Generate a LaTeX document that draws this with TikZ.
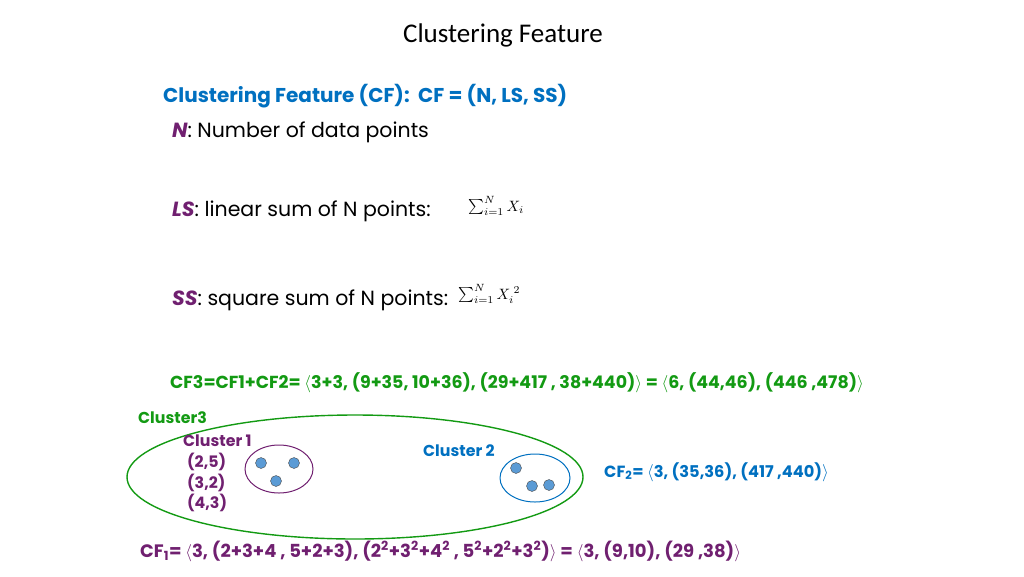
\documentclass[tikz,border=0pt]{standalone}
\usepackage{fontspec}
\usepackage{graphicx}
\setmainfont{Poppins}
\newfontfamily\titlefont{Carlito}
\usetikzlibrary{positioning}
\definecolor{cfblue}{HTML}{0070C0}
\definecolor{cfpurple}{HTML}{702070}
\definecolor{cfgreen}{HTML}{139A13}
\definecolor{ptfill}{HTML}{5B9BD5}
\tikzset{
  body/.style={anchor=west,inner sep=0,font=\fontsize{20.5}{24}\selectfont},
  small/.style={anchor=west,inner sep=0,font=\bfseries\fontsize{15.8}{18}\selectfont},
  formula/.style={anchor=west,inner sep=0},
  pt/.style={circle,draw=black!70,fill=ptfill,minimum size=11,inner sep=0}
}
\newcommand{\lang}{$\langle$}
\newcommand{\rang}{$\rangle$}
\begin{document}
\begin{tikzpicture}[x=1pt,y=-1pt]
  \useasboundingbox (0,0) rectangle (1024,576);
  % Title and definitions
  \node (title) at (503,35) {\titlefont\fontsize{27}{30}\selectfont Clustering Feature};
  \node[body,cfblue,font=\bfseries\fontsize{20}{24}\selectfont] (def) at (163,96) {Clustering Feature (CF):\ \ CF = (N, LS, SS)};
  \node[body] (n) at (172,132) {\textcolor{cfpurple}{\bfseries\itshape N}: Number of data points};
  \node[body] (ls) at (172,211) {\textcolor{cfpurple}{\bfseries\itshape LS}: linear sum of N points:};
  \node[formula] (lsf) at (468,206) {\scalebox{1.5}{$\sum_{i=1}^{N} X_i$}};
  \node[body] (ss) at (172,300) {\textcolor{cfpurple}{\bfseries\itshape SS}: square sum of N points:};
  \node[formula] (ssf) at (458,294) {\scalebox{1.5}{$\sum_{i=1}^{N} X_i^{\;2}$}};

  % Combined feature
  \node[small,cfgreen,font=\bfseries\fontsize{17.4}{20}\selectfont] (cf3) at (170,383)
    {CF3=CF1+CF2= \lang3+3, (9+35, 10+36), (29+417 , 38+440)\rang{} = \lang6, (44,46), (446 ,478)\rang};

  % Clusters
  \node[small,cfgreen] (c3) at (138,418) {Cluster3};
  \draw[cfgreen,line width=1.4] (355,477) ellipse (228 and 62);
  \node[small,cfpurple] (c1) at (183,441) {Cluster 1};
  \node[small,cfpurple] (p1) at (187,462) {(2,5)};
  \node[small,cfpurple] (p2) at (187,483) {(3,2)};
  \node[small,cfpurple] (p3) at (187,503) {(4,3)};
  \draw[cfpurple,line width=1] (279,469) ellipse (34 and 24);
  \node[pt] (a1) at (261,463) {};
  \node[pt] (a2) at (294,463) {};
  \node[pt] (a3) at (276,481) {};
  \node[small,cfblue] (c2) at (423,451) {Cluster 2};
  \draw[cfblue,line width=1] (535,478) ellipse (35 and 24);
  \node[pt] (b1) at (516,468) {};
  \node[pt] (b2) at (532,486) {};
  \node[pt] (b3) at (549,485) {};
  \node[small,cfblue,font=\bfseries\fontsize{16.2}{19}\selectfont] (cf2) at (604,472) {CF\textsubscript{2}= \lang3, (35,36), (417 ,440)\rang};

  % Cluster 1 feature
  \node[small,cfpurple,font=\bfseries\fontsize{18}{21}\selectfont] (cf1) at (140,551)
    {CF\textsubscript{1}= \lang3, (2+3+4 , 5+2+3), (2\textsuperscript{2}+3\textsuperscript{2}+4\textsuperscript{2} , 5\textsuperscript{2}+2\textsuperscript{2}+3\textsuperscript{2})\rang{} = \lang3, (9,10), (29 ,38)\rang};
\end{tikzpicture}
\end{document}
